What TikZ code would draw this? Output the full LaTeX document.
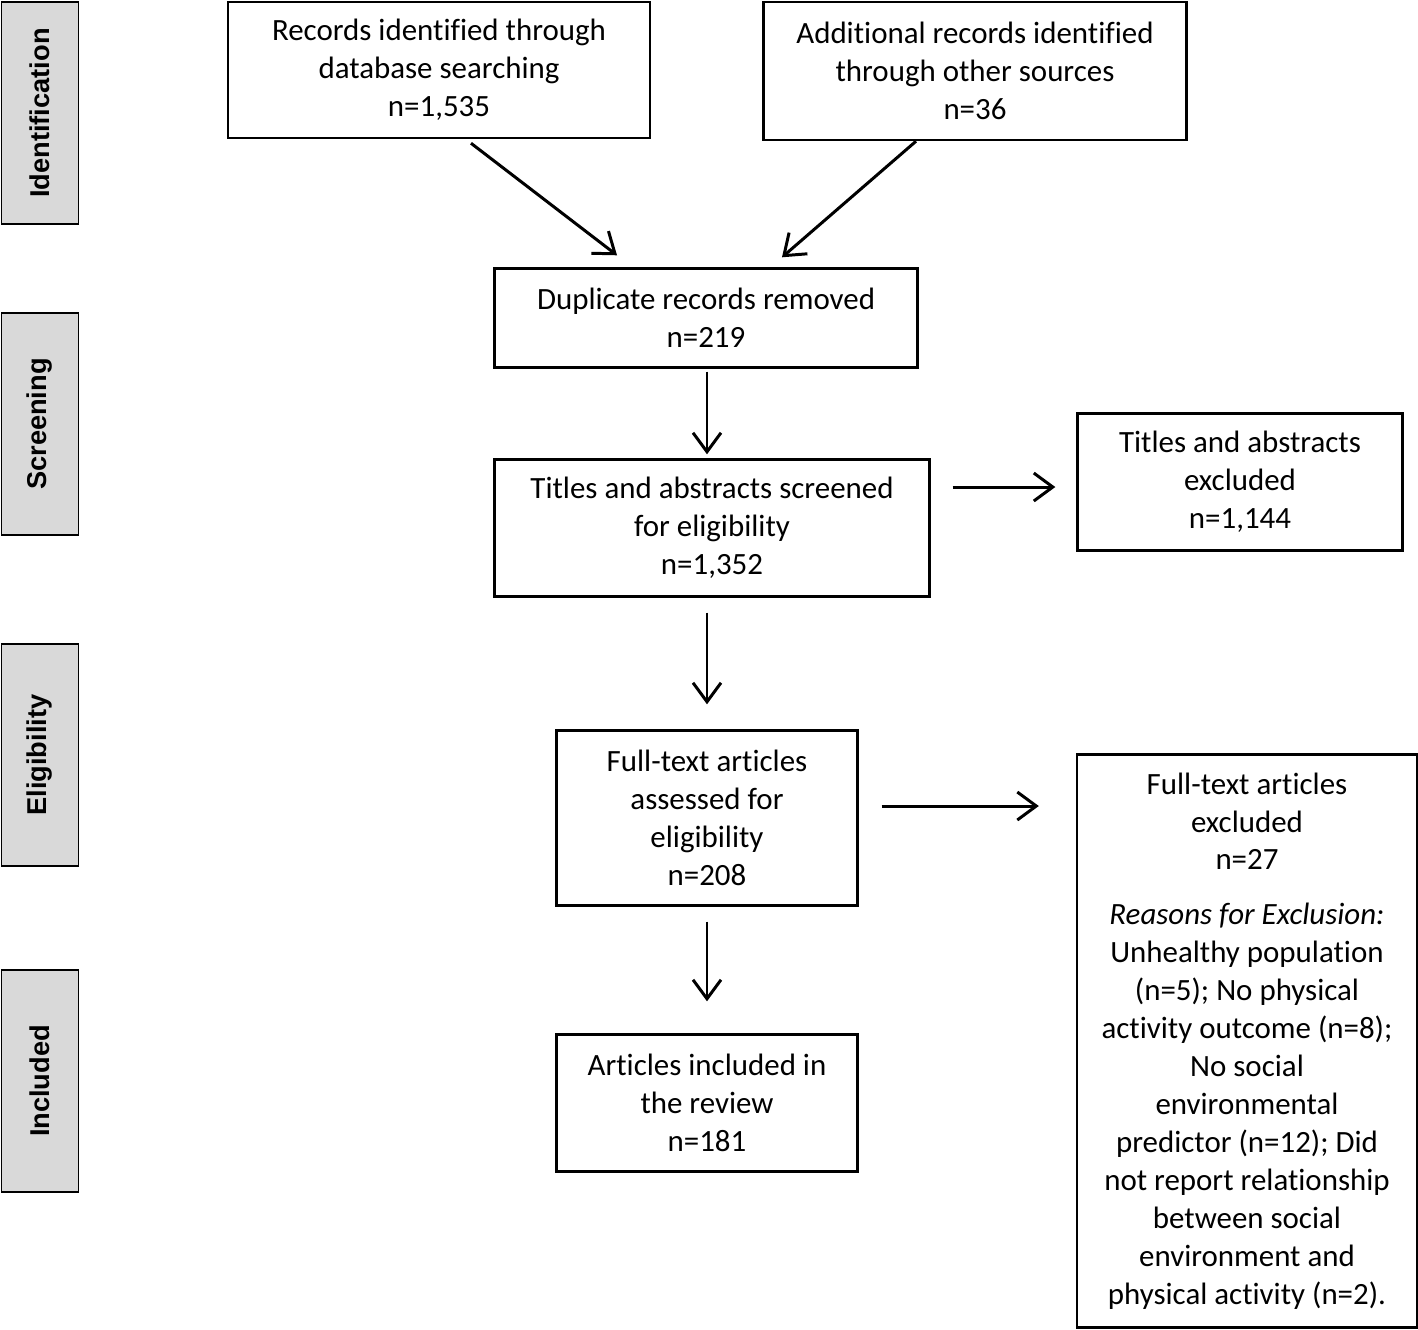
\documentclass[tikz,border=0pt]{standalone}
\usepackage{fontspec}
\setmainfont[Ligatures=CommonOff]{Carlito}
\newfontfamily\sidefont{Liberation Sans}
\usetikzlibrary{arrows.meta,positioning}

\begin{document}
\begin{tikzpicture}[x=0.02cm, y=-0.02cm,
		box/.style = {draw, line width=1.4pt, align=center, inner sep=0pt,
			font=\fontsize{17.6}{21.6}\selectfont},
		phase/.style = {draw, line width=1.1pt, fill=black!15, inner sep=0pt,
			minimum width=1.54cm, minimum height=4.44cm},
		phaselabel/.style = {rotate=90, font=\sidefont\bfseries\fontsize{15.5}{18}\selectfont},
		arr/.style = {line width=1.7pt, -{Straight Barb[length=0.38cm, width=0.56cm, line width=1.7pt]}}]
		\useasboundingbox (0,0) rectangle (1418,1330);
		% phases on the left
		\node[phase] (ident) at (40,113)  {};
		\node[phase] (scr)   at (40,424)  {};
		\node[phase] (elig)  at (40,755)  {};
		\node[phase] (incd)  at (40,1081) {};
		\node[phaselabel] at (ident) {Identification};
		\node[phaselabel] at (scr)   {Screening};
		\node[phaselabel] at (elig)  {Eligibility};
		\node[phaselabel] at (incd)  {Included};
		% boxes
		\node[box, minimum width=8.44cm, minimum height=2.72cm] (rec) at (439,70)
			{Records identified through\\database searching\\n=1,535};
		\node[box, minimum width=8.46cm, minimum height=2.76cm] (add) at (975,71)
			{Additional records identified\\through other sources\\n=36};
		\node[box, minimum width=8.46cm, minimum height=1.98cm] (dup) at (706,318)
			{Duplicate records removed\\n=219};
		\node[box, minimum width=8.70cm, minimum height=2.74cm] (screen) at (712,528)
			{Titles and abstracts screened\\for eligibility\\n=1,352};
		\node[box, minimum width=6.50cm, minimum height=2.74cm] (titex) at (1240,482)
			{Titles and abstracts\\excluded\\n=1,144};
		\node[box, minimum width=6.02cm, minimum height=3.50cm] (full) at (707,818)
			{Full-text articles\\assessed for\\eligibility\\n=208};
		\node[box, minimum width=6.80cm, minimum height=11.46cm] (fullex) at (1247,1041)
			{Full-text articles\\excluded\\n=27\\[0.34cm]
			\textit{Reasons for Exclusion:}\\Unhealthy population\\(n=5); No physical\\
			activity outcome (n=8);\\No social\\environmental\\predictor (n=12); Did\\
			not report relationship\\between social\\environment and\\physical activity (n=2).};
		\node[box, minimum width=6.02cm, minimum height=2.74cm] (incl) at (707,1103)
			{Articles included in\\the review\\n=181};
		% connectors
		\draw[arr] ([xshift=0.64cm, yshift=-0.08cm]rec.south) -- ([xshift=-1.78cm, yshift=0.24cm]dup.north);
		\draw[arr] ([xshift=-1.18cm]add.south) -- ([xshift=1.52cm, yshift=0.20cm]dup.north);
		\draw[arr, shorten <=0.06cm, shorten >=0.08cm] ([xshift=0.02cm]dup.south) -- ([xshift=0.02cm]dup.south |- screen.north);
		\draw[arr, shorten <=0.44cm, shorten >=0.42cm] ([yshift=0.82cm]screen.east) -- ([yshift=0.82cm]screen.east -| titex.west);
		\draw[arr, shorten <=0.30cm, shorten >=0.50cm] (screen.south -| full.north) -- (full.north);
		\draw[arr, shorten <=0.46cm, shorten >=0.74cm] ([yshift=0.24cm]full.east) -- ([yshift=0.24cm]full.east -| fullex.west);
		\draw[arr, shorten <=0.30cm, shorten >=0.64cm] (full.south) -- (incl.north);
	\end{tikzpicture}
\end{document}
